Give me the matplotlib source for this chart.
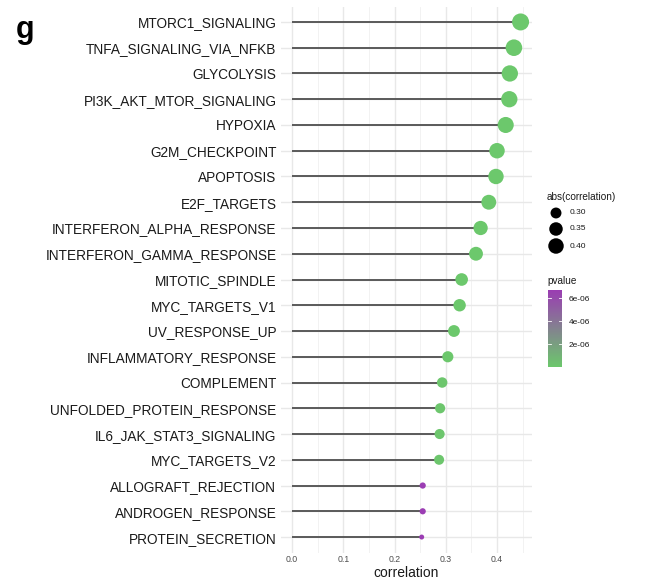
import numpy as np
import matplotlib
matplotlib.use("Agg")
import matplotlib.pyplot as plt
from matplotlib.colors import LinearSegmentedColormap, Normalize

plt.rcParams['font.family'] = ['Liberation Sans', 'DejaVu Sans']

# Hallmark pathways, ordered top to bottom
pathways = [
    "MTORC1_SIGNALING", "TNFA_SIGNALING_VIA_NFKB", "GLYCOLYSIS",
    "PI3K_AKT_MTOR_SIGNALING", "HYPOXIA", "G2M_CHECKPOINT", "APOPTOSIS",
    "E2F_TARGETS", "INTERFERON_ALPHA_RESPONSE", "INTERFERON_GAMMA_RESPONSE",
    "MITOTIC_SPINDLE", "MYC_TARGETS_V1", "UV_RESPONSE_UP",
    "INFLAMMATORY_RESPONSE", "COMPLEMENT", "UNFOLDED_PROTEIN_RESPONSE",
    "IL6_JAK_STAT3_SIGNALING", "MYC_TARGETS_V2", "ALLOGRAFT_REJECTION",
    "ANDROGEN_RESPONSE", "PROTEIN_SECRETION",
]
correlation = [
    0.446, 0.433, 0.425, 0.424, 0.417, 0.400, 0.398, 0.384, 0.368, 0.359,
    0.331, 0.327, 0.316, 0.304, 0.293, 0.289, 0.288, 0.287, 0.255, 0.255,
    0.253,
]
pvalue = [
    1e-12, 1e-12, 1e-12, 1e-12, 1e-12, 1e-11, 1e-11, 1e-10, 1e-9, 1e-9,
    1e-8, 1e-8, 2e-8, 5e-8, 1e-7, 1e-7, 1e-7, 1.2e-7, 6.7e-6, 6.7e-6,
    6.7e-6,
]
x_ticks = [0.0, 0.1, 0.2, 0.3, 0.4]
size_breaks = [0.30, 0.35, 0.40]
p_breaks = [2e-6, 4e-6, 6e-6]

W, H = 667, 582
fig = plt.figure(figsize=(W / 100, H / 100), dpi=100)
fig.patch.set_facecolor("white")


def rect(x0, y0, x1, y1):
    return [x0 / W, 1 - y1 / H, (x1 - x0) / W, (y1 - y0) / H]


cmap = LinearSegmentedColormap.from_list("pv", ["#6CC86C", "#9B3DB3"])
pmin, pmax = min(pvalue), max(pvalue)
norm = Normalize(vmin=pmin, vmax=pmax)

corr = np.array(correlation)
abs_c = np.abs(corr)
cmin, cmax = abs_c.min(), abs_c.max()
d_min, d_max = 5.0, 17.0  # marker diameter range in px


def area(v):
    frac = np.sqrt(np.clip((np.asarray(v) - cmin) / (cmax - cmin), 0, 1))
    d_px = d_min + (d_max - d_min) * frac
    return (d_px * 0.72) ** 2


ax = fig.add_axes(rect(280.6, 6.5, 532, 552.5))
n = len(pathways)
ypos = np.arange(n)[::-1]

ax.hlines(ypos, 0, corr, color="#5a5a5a", lw=1.4, zorder=2)
ax.scatter(corr, ypos, s=area(abs_c), c=pvalue, cmap=cmap, norm=norm,
           edgecolors="none", zorder=3)

xmax = corr.max()
ax.set_xlim(-0.05 * xmax, 1.05 * xmax)
ax.set_ylim(-0.6, n - 1 + 0.6)
ax.set_yticks(ypos)
ax.set_yticklabels(pathways, fontsize=9.8, color="#1a1a1a")
ax.set_xticks(x_ticks)
ax.set_xticklabels([f"{t:.1f}" for t in x_ticks], fontsize=6.3, color="#4d4d4d")
ax.set_xticks(np.arange(0.05, 0.46, 0.1), minor=True)
ax.tick_params(length=0, which="both")
ax.tick_params(axis="y", pad=3)
ax.tick_params(axis="x", pad=2)
for s in ax.spines.values():
    s.set_visible(False)
ax.grid(True, which="major", color="#E8E8E8", lw=1.0, zorder=0)
ax.grid(True, which="minor", axis="x", color="#F0F0F0", lw=0.6, zorder=0)
ax.set_axisbelow(True)
ax.set_xlabel("correlation", fontsize=10, color="#1a1a1a", labelpad=1)

fig.text(16 / W, 1 - 30 / H, "g", fontsize=22, fontweight="bold",
         va="center", ha="left")

# Size legend
lg = fig.add_axes(rect(540, 190, 630, 260))
lg.set_xlim(540, 630)
lg.set_ylim(260, 190)
lg.axis("off")
lg.text(547, 197, "abs(correlation)", fontsize=7.2, va="center", ha="left",
        color="#1a1a1a")
for b, yy in zip(size_breaks, [213, 229, 246]):
    lg.scatter([556], [yy], s=area(b), color="black", edgecolors="none")
    lg.text(570, yy, f"{b:.2f}", fontsize=6.0, va="center", ha="left",
            color="#1a1a1a")

fig.text(547 / W, 1 - 281 / H, "pvalue", fontsize=7.2, va="center",
         ha="left", color="#1a1a1a")

# Colour bar
cax = fig.add_axes(rect(548, 290, 562, 367))
grad = np.linspace(pmin, pmax, 256).reshape(-1, 1)
cax.imshow(grad, aspect="auto", cmap=cmap, norm=norm, origin="lower",
           extent=[0, 1, pmin, pmax])
cax.set_xlim(0, 1)
cax.set_ylim(pmin, pmax)
cax.set_xticks([])
cax.yaxis.tick_right()
cax.set_yticks(p_breaks)
cax.set_yticklabels(["2e-06", "4e-06", "6e-06"], fontsize=6.0, color="#1a1a1a")
cax.tick_params(axis="y", length=0, pad=5)
for b in p_breaks:
    cax.plot([0, 0.2], [b, b], color="white", lw=0.6)
    cax.plot([0.8, 1], [b, b], color="white", lw=0.6)
for s in cax.spines.values():
    s.set_visible(False)

fig.savefig("out.png", dpi=100)
